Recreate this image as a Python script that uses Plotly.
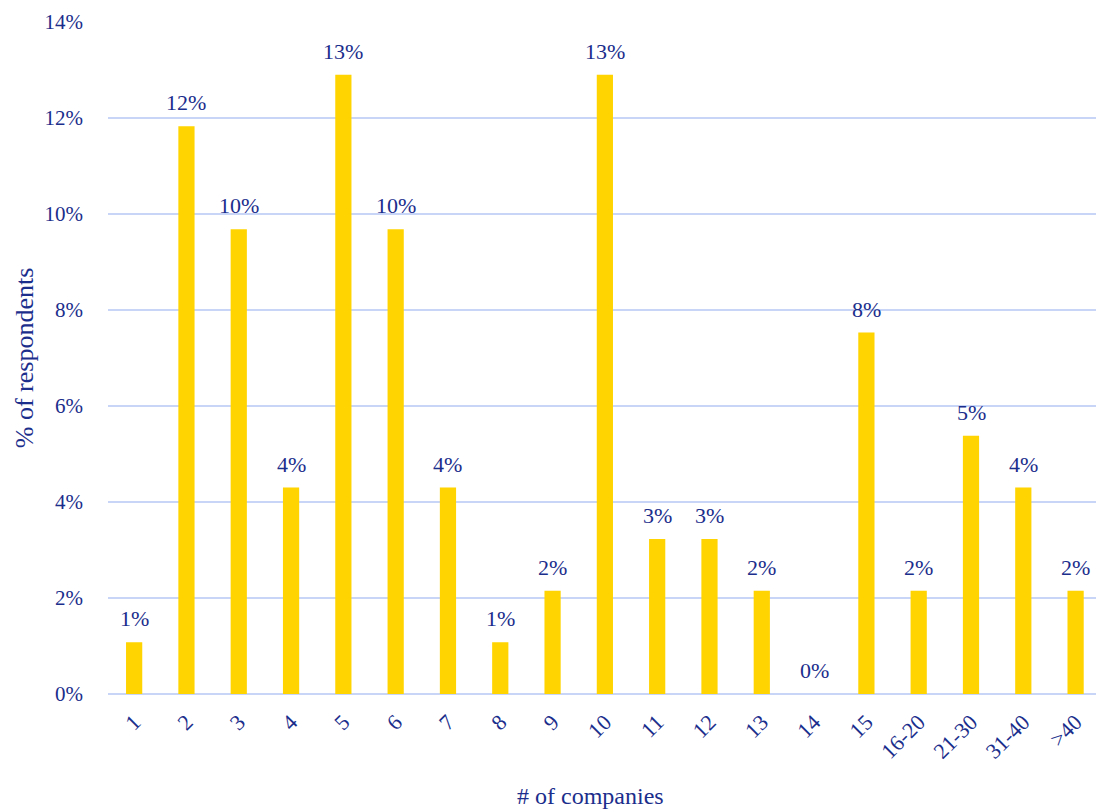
import plotly.graph_objects as go

# Share of respondents by number of companies
categories = ["1", "2", "3", "4", "5", "6", "7", "8", "9", "10", "11", "12",
              "13", "14", "15", "16-20", "21-30", "31-40", ">40"]
share_pct = [1.08, 11.83, 9.68, 4.30, 12.90, 9.68, 4.30, 1.08, 2.15, 12.90,
             3.23, 3.23, 2.15, 0.0, 7.53, 2.15, 5.38, 4.30, 2.15]
y_ticks = [0, 2, 4, 6, 8, 10, 12, 14]

NAVY = "#1B2E8C"
GOLD = "#FFD400"
GRID = "#C9D5F7"
FONT = "Liberation Serif"

labels = [f"{round(v):d}%" for v in share_pct]

fig = go.Figure(
    go.Bar(
        x=categories,
        y=share_pct,
        marker=dict(color=GOLD, line=dict(width=0)),
        width=0.31,
        hoverinfo="x+y",
    )
)

# value labels sitting above each bar (x given as category index)
for idx, (val, lab) in enumerate(zip(share_pct, labels)):
    fig.add_annotation(
        x=idx, y=val, text=lab,
        xref="x", yref="y",
        xanchor="center", yanchor="bottom",
        yshift=9, showarrow=False,
        font=dict(family=FONT, size=22, color=NAVY),
    )

fig.add_annotation(
    text="# of companies",
    xref="paper", yref="paper",
    x=0.488, y=-0.152,
    xanchor="center", yanchor="middle",
    showarrow=False,
    font=dict(family=FONT, size=24, color=NAVY),
)

fig.update_layout(
    width=1096,
    height=809,
    margin=dict(l=108, r=0, t=22, b=115),
    paper_bgcolor="white",
    plot_bgcolor="white",
    showlegend=False,
    font=dict(family=FONT, color=NAVY, size=21),
    xaxis=dict(
        type="category",
        range=[-0.5, 18.39],
        tickangle=-45,
        showgrid=False,
        showline=False,
        zeroline=False,
        ticks="",
        ticklabelstandoff=10,
        tickfont=dict(family=FONT, size=22, color=NAVY),
    ),
    yaxis=dict(
        range=[0, 14],
        tickvals=y_ticks,
        ticktext=[f"{t}%" for t in y_ticks],
        showgrid=True,
        gridcolor=GRID,
        gridwidth=2,
        zeroline=True,
        zerolinecolor=GRID,
        zerolinewidth=2,
        showline=False,
        ticks="",
        ticklabelstandoff=24,
        tickfont=dict(family=FONT, size=21, color=NAVY),
        title=dict(text="% of respondents", standoff=3,
                   font=dict(family=FONT, size=26, color=NAVY)),
    ),
)

fig.write_html("out.html")
